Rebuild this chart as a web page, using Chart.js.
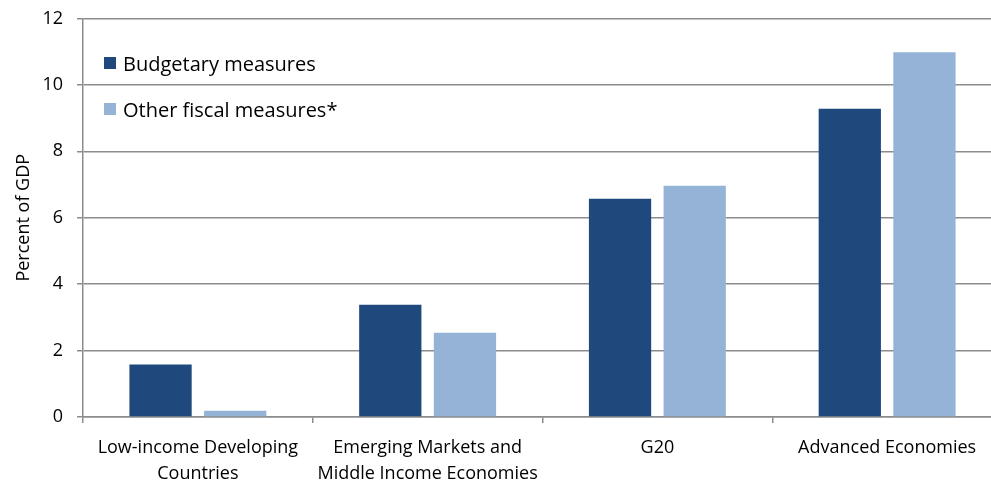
<!DOCTYPE html>
<html>
<head>
<meta charset="utf-8">
<script src="https://cdn.jsdelivr.net/npm/chart.js@4.4.1/dist/chart.umd.min.js"></script>
<style>
  html, body { margin: 0; padding: 0; background: #fff; overflow: hidden; }
  .wrap { position: relative; width: 1002px; height: 481px; }
  .legend { position: absolute; left: 104px; top: 49px; font: 20px "Open Sans", sans-serif; color: #000; }
  .legend-row { display: flex; align-items: center; height: 28px; margin-bottom: 18px; }
  .legend-row span.sw { width: 12px; height: 12px; margin-right: 7px; display: inline-block; }
</style>
</head>
<body>
<div class="wrap">
  <canvas id="fiscal-chart" width="1002" height="481"></canvas>
  <div class="legend" id="legend"></div>
</div>
<script>
/* Fiscal response by country group, percent of GDP */
const groups = [
  ['Low-income Developing', 'Countries'],
  ['Emerging Markets and', 'Middle Income Economies'],
  'G20',
  'Advanced Economies'
];
const budgetary = [1.58, 3.38, 6.57, 9.28];
const otherFiscal = [0.19, 2.54, 6.96, 10.98];
const seriesNames = ['Budgetary measures', 'Other fiscal measures*'];
const seriesColors = ['#1F497D', '#95B3D7'];
const yTicks = [0, 2, 4, 6, 8, 10, 12];

const FONT = '"Open Sans", sans-serif';
const GRID = '#8c8c8c';

document.getElementById('legend').innerHTML = seriesNames.map((n, i) => `
  <div class="legend-row"><span class="sw" style="background:${seriesColors[i]}"></span>${n}</div>
`).join('');

new Chart(document.getElementById('fiscal-chart').getContext('2d'), {
  type: 'bar',
  data: {
    labels: groups,
    datasets: [
      { label: seriesNames[0], data: budgetary, backgroundColor: seriesColors[0] },
      { label: seriesNames[1], data: otherFiscal, backgroundColor: seriesColors[1] }
    ]
  },
  options: {
    responsive: false, animation: false,
    categoryPercentage: 0.65, barPercentage: 0.834,
    layout: { padding: { top: 18.5, right: 0, left: 0, bottom: 0 } },
    plugins: { legend: { display: false }, tooltip: { enabled: false } },
    scales: {
      x: {
        afterFit: s => { s.height = 64; },
        grid: { display: true, drawOnChartArea: false, drawTicks: true, tickLength: 6, color: GRID, lineWidth: 1.5, offset: true },
        border: { display: true, color: GRID, width: 1.5 },
        ticks: { font: { size: 18, family: FONT, lineHeight: 1.45 }, color: '#000', padding: 12, maxRotation: 0, autoSkip: false }
      },
      y: {
        min: 0, max: 12,
        afterFit: s => { s.width = 83; s.paddingTop = 0; s.paddingBottom = 0; },
        afterBuildTicks: s => { s.ticks = yTicks.map(v => ({ value: v })); },
        grid: { color: GRID, lineWidth: 1.5, drawTicks: true, tickLength: 6 },
        border: { display: true, color: GRID, width: 1.5 },
        ticks: { font: { size: 18, family: FONT }, color: '#000', padding: 14 },
        title: { display: true, text: 'Percent of GDP', font: { size: 18, family: FONT }, color: '#000', padding: { top: 13, bottom: 0 } }
      }
    }
  }
});
</script>
</body>
</html>
